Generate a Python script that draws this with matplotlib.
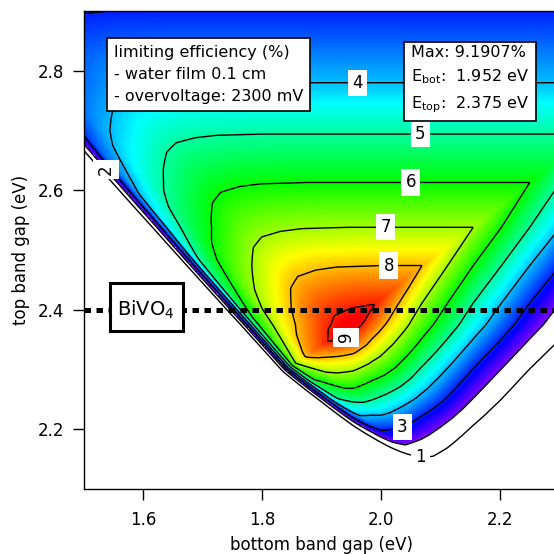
import numpy as np
import matplotlib
matplotlib.use("Agg")
import matplotlib.pyplot as plt
from matplotlib.colors import ListedColormap, hsv_to_rgb
from matplotlib.patches import Rectangle

# ---- data ----
# efficiency limited by the photon flux above a band gap (%), vs gap (eV)
flux_gap = [1.5, 1.7, 1.8, 1.9, 1.952, 1.985, 2.069, 2.155, 2.25, 2.291,
            2.346, 2.375, 2.405, 2.474, 2.538, 2.613, 2.694, 2.78, 2.9]
flux_eff = [31.0, 26.0, 23.2, 20.4, 19.2, 18.2, 16.0, 14.0, 12.0, 11.2,
            10.1, 9.55, 9.1, 8.0, 7.0, 6.0, 5.0, 4.0, 3.01]
# voltage factor vs. effective sum of both gaps (eV)
volt_sum = [4.10, 4.14, 4.15, 4.16, 4.17, 4.18, 4.195, 4.21, 4.227, 4.259,
            4.29, 4.32, 4.36, 4.40, 4.48, 5.30]
volt_fac = [0.0, 0.0, 0.12, 0.32, 0.52, 0.64, 0.70, 0.765, 0.81, 0.874,
            0.93, 0.965, 0.985, 0.995, 1.0, 1.0]
diode_slope = 0.04      # eV per e-fold of current
current_ref = 7.5       # % (reference current level)

contour_levels = [1, 2, 3, 4, 5, 6, 7, 8, 9]
label_bot = [2.067, 1.534, 2.034, 1.960, 2.066, 2.050, 2.008, 2.013, 1.935]
label_top = [2.158, 2.630, 2.209, 2.780, 2.695, 2.613, 2.540, 2.475, 2.370]
label_rot = [0, 90, 0, 0, 0, 0, 0, 0, 90]
bivo4_gap = 2.4
x_ticks = [1.6, 1.8, 2.0, 2.2]
y_ticks = [2.2, 2.4, 2.6, 2.8]
max_eff = 9.1907

plt.rcParams["mathtext.default"] = "regular"

# ---- field ----
gx = np.linspace(1.5, 2.3, 801)
gy = np.linspace(2.1, 2.9, 801)
EB, ET = np.meshgrid(gx, gy)
fg = np.array(flux_gap)
fe = np.array(flux_eff)
F_top = np.interp(ET, fg, fe)
F_bot = np.interp(EB, fg, fe) - F_top
J = np.clip(np.minimum(F_top, F_bot), 1e-6, None)
s_eff = EB + ET + diode_slope * np.log(J / current_ref)
Z = J * np.interp(s_eff, volt_sum, volt_fac)

# rainbow colour table (violet -> red)
hue = np.linspace(0.75, 0.0, 256)
cols = hsv_to_rgb(np.stack([hue, np.ones_like(hue), np.ones_like(hue)], axis=1))
cmap = ListedColormap(cols)
cmap.set_under("white")

fig = plt.figure(figsize=(5.54, 5.54), dpi=100)
ax = fig.add_axes([83.5 / 554, 1 - 489 / 554, 476 / 554, 478 / 554])

ax.imshow(Z, origin="lower", extent=[1.5, 2.3, 2.1, 2.9], aspect="auto",
          cmap=cmap, vmin=2.0, vmax=max_eff, interpolation="nearest", zorder=1)
cs = ax.contour(EB, ET, Z, levels=contour_levels, colors="black",
                linewidths=1.0, zorder=2)

# contour labels: put each label on the nearest point of its own contour
for lev, bx, ty, rot in zip(contour_levels, label_bot, label_top, label_rot):
    segs = [s for s in cs.allsegs[list(cs.levels).index(lev)] if len(s)]
    if not segs:
        continue
    pts = np.vstack(segs)
    i = np.argmin((pts[:, 0] - bx) ** 2 + (pts[:, 1] - ty) ** 2)
    ax.text(pts[i, 0], pts[i, 1], f"{lev}", ha="center", va="center",
            fontsize=12, rotation=rot, zorder=4,
            bbox=dict(facecolor="white", edgecolor="none", pad=3))

ax.axhline(bivo4_gap, color="black", lw=3.6, dashes=(1.3, 1.1), zorder=3)

ax.set_xlim(1.5, 2.3)
ax.set_ylim(2.1, 2.9)
ax.set_xticks(x_ticks)
ax.set_yticks(y_ticks)
ax.set_xticklabels([f"{v:.1f}" for v in x_ticks])
ax.set_yticklabels([f"{v:.1f}" for v in y_ticks])
ax.tick_params(direction="out", length=8, width=1, labelsize=12, pad=6)
ax.tick_params(axis="x", pad=8)
for s in ax.spines.values():
    s.set_linewidth(1.0)

ax.set_xlabel("bottom band gap (eV)", fontsize=12)
ax.set_ylabel("top band gap (eV)", fontsize=12)
ax.xaxis.set_label_coords(0.5, -0.099)
ax.yaxis.set_label_coords(-0.113, 0.5)

ax.text(0.064, 0.929,
        "limiting efficiency (%)\n- water film 0.1 cm\n- overvoltage: 2300 mV",
        transform=ax.transAxes, ha="left", va="top", fontsize=11.5,
        linespacing=1.6, zorder=6,
        bbox=dict(boxstyle="square,pad=0.42", facecolor="white",
                  edgecolor="black", linewidth=1.2))
ax.text(0.688, 0.929,
        f"Max: {max_eff:.4f}%\nE$_{{bot}}$:  1.952 eV\nE$_{{top}}$:  2.375 eV",
        transform=ax.transAxes, ha="left", va="top", fontsize=11.5,
        linespacing=1.55, zorder=6,
        bbox=dict(boxstyle="square,pad=0.42", facecolor="white",
                  edgecolor="black", linewidth=1.2))
ax.add_patch(Rectangle((26.5 / 476, 158 / 478), 73 / 476, 48 / 478,
                       transform=ax.transAxes, facecolor="white",
                       edgecolor="black", linewidth=2.2, zorder=5))
ax.text(1.605, bivo4_gap, "BiVO$_4$", ha="center", va="center", fontsize=14,
        zorder=6)

fig.savefig("out.png", dpi=100)
